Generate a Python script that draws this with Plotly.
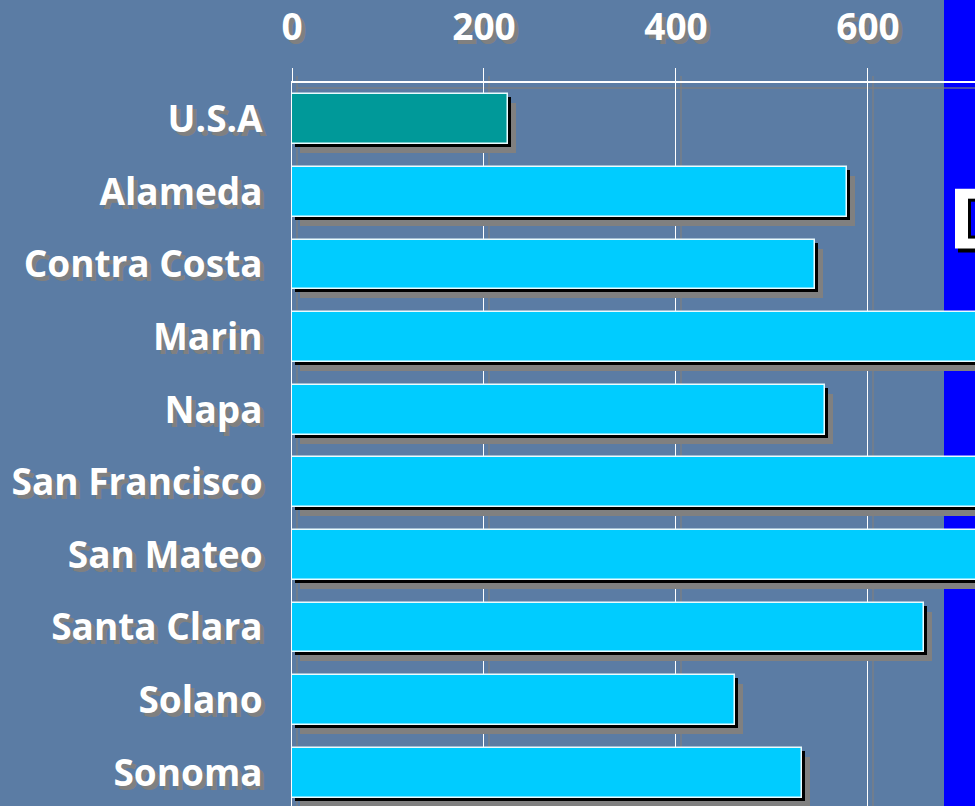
import plotly.graph_objects as go

categories = ["U.S.A", "Alameda", "Contra Costa", "Marin", "Napa", "San Francisco",
              "San Mateo", "Santa Clara", "Solano", "Sonoma"]
values = [225, 578, 545, 760, 555, 790, 775, 658, 462, 531]
bar_colors = ["#009999"] + ["#00ccff"] * 9
x_ticks = [0, 200, 400, 600]

W, H = 975, 809
ML, MT = 292, 81
plot_w = W - ML
plot_h = H - MT
x_max = 711.5
px_per_unit = plot_w / x_max
px_per_cat = plot_h / len(categories)

idx = list(range(len(categories)))
bw = 50 / px_per_cat

fig = go.Figure()
# gray shadow
fig.add_trace(go.Bar(
    y=[i + 9 / px_per_cat for i in idx], x=values, base=8 / px_per_unit,
    orientation="h", width=bw, marker=dict(color="#808080", line=dict(width=0)),
    hoverinfo="skip", showlegend=False))
# black shadow
fig.add_trace(go.Bar(
    y=[i + 3 / px_per_cat for i in idx], x=values, base=3 / px_per_unit,
    orientation="h", width=bw, marker=dict(color="#000000", line=dict(width=0)),
    hoverinfo="skip", showlegend=False))
# main bars
fig.add_trace(go.Bar(
    y=idx, x=values, orientation="h", width=bw,
    marker=dict(color=bar_colors, line=dict(color="#e8fbff", width=1.5)),
    showlegend=False))

shapes = []
# blue legend background (behind everything)
shapes.append(dict(type="rect", xref="paper", yref="paper",
                   x0=(944 - ML) / plot_w, x1=1.02, y0=-0.02, y1=1 + MT / plot_h + 0.02,
                   fillcolor="#0000ff", line=dict(width=0), layer="below"))
# gridline shadows
for t in x_ticks:
    shapes.append(dict(type="line", xref="x", yref="paper",
                       x0=t + 5 / px_per_unit, x1=t + 5 / px_per_unit,
                       y0=0, y1=1 + 7 / plot_h,
                       line=dict(color="rgba(128,128,128,0.8)", width=1.5), layer="below"))
shapes.append(dict(type="line", xref="paper", yref="paper",
                   x0=5 / plot_w, x1=1, y0=1 - 5 / plot_h, y1=1 - 5 / plot_h,
                   line=dict(color="rgba(128,128,128,0.8)", width=1.5), layer="below"))
# legend item box (cropped)
def pr(px0, py0, px1, py1, color):
    return dict(type="rect", xref="paper", yref="paper",
                x0=(px0 - ML) / plot_w, x1=(px1 - ML) / plot_w,
                y0=1 - (py1 - MT) / plot_h, y1=1 - (py0 - MT) / plot_h,
                fillcolor=color, line=dict(width=0), layer="above")
shapes.append(pr(958, 191, 980, 251, "#000000"))
shapes.append(pr(955, 187, 980, 247, "#ffffff"))
shapes.append(pr(968, 197, 980, 237, "#000000"))
shapes.append(pr(971, 200, 980, 234, "#0000ff"))

tickfont = dict(family="Open Sans", size=37, color="white", weight="bold",
                shadow="4px 4px 0px #808080")

fig.update_layout(
    width=W, height=H,
    margin=dict(l=ML, r=0, t=MT, b=0),
    paper_bgcolor="#5b7ca4",
    plot_bgcolor="rgba(0,0,0,0)",
    barmode="overlay",
    bargap=0,
    shapes=shapes,
    xaxis=dict(side="top", range=[0, x_max], tickvals=x_ticks, ticktext=[str(t) for t in x_ticks],
               showgrid=True, gridcolor="white", gridwidth=1,
               zeroline=False, showline=True, linecolor="white", linewidth=2,
               ticks="outside", ticklen=13, tickcolor="white", tickwidth=1,
               tickfont=tickfont, ticklabelstandoff=13),
    yaxis=dict(range=[len(categories) - 0.5, -0.5], tickvals=idx, ticktext=categories,
               showgrid=False, zeroline=False, showline=True, linecolor="white", linewidth=1,
               ticks="", tickfont=tickfont, ticklabelstandoff=21),
)

fig.write_html("out.html", config={"displayModeBar": False},
               post_script="document.body.style.margin='0';document.body.style.overflow='hidden';")
